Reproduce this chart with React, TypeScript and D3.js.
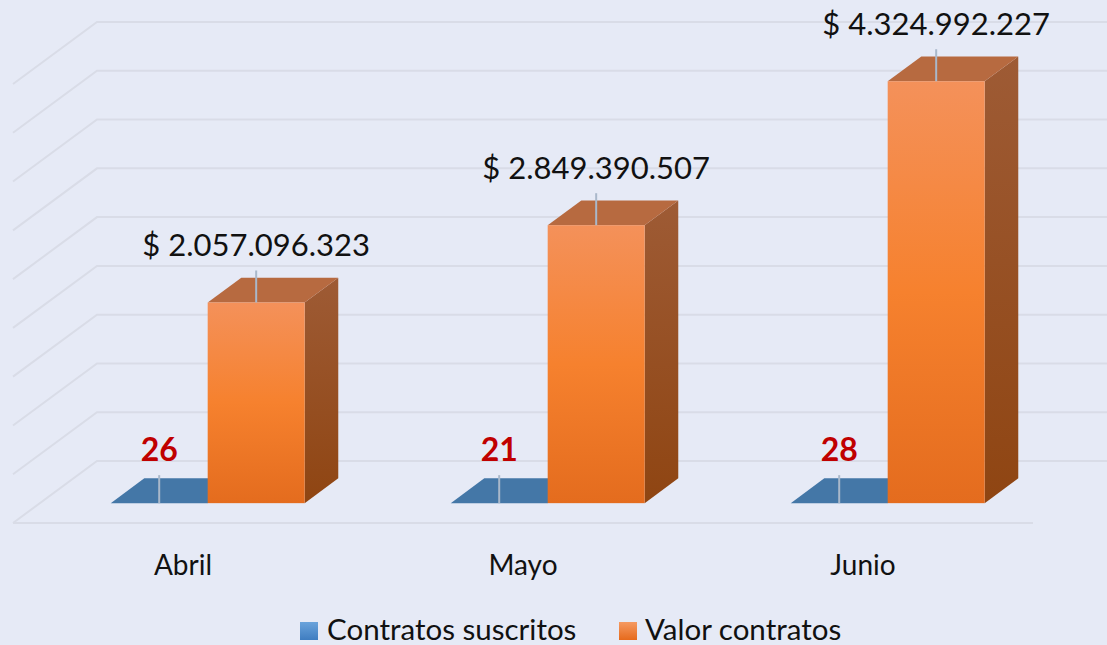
import React from "react";
import * as d3 from "d3";

const categories = ["Abril", "Mayo", "Junio"];
const contratosSuscritos = [26, 21, 28];
const valorContratos = [2057096323, 2849390507, 4324992227];
const yTicks = [0, 5e8, 1e9, 1.5e9, 2e9, 2.5e9, 3e9, 3.5e9, 4e9, 4.5e9];
const seriesNames = ["Contratos suscritos", "Valor contratos"];

const W = 1107;
const H = 645;
const FLOOR_Y = 523;
const FLOOR_L = 13;
const FLOOR_R = 1033;
const DX = 84;
const DY = 62;
const F0 = 0.32;
const F1 = 0.72;
const FONT = "Lato, 'Open Sans', sans-serif";

const locale = d3.formatLocale({
  decimal: ",",
  thousands: ".",
  grouping: [3],
  currency: ["$ ", ""],
});
const fmtMoney = locale.format("$,d");

function proj(x: number, h: number, f: number): [number, number] {
  return [x + DX * f, FLOOR_Y - DY * f - h];
}
function poly(pts: [number, number][]) {
  return pts.map((p) => p.join(",")).join(" ");
}

export default function App() {
  const y = d3.scaleLinear().domain([0, 4.5e9]).range([0, 439]);
  const x0 = d3.scaleBand<string>().domain(categories).range([FLOOR_L, FLOOR_R]);
  const x1 = d3
    .scaleBand<string>()
    .domain(seriesNames)
    .range([0, x0.bandwidth()])
    .paddingInner(0)
    .paddingOuter(0.753)
    .align(0.485);
  const w = x1.bandwidth();

  return (
    <svg
      width={W}
      height={H}
      style={{ position: "absolute", left: 0, top: 0, display: "block" }}
    >
      <defs>
        <linearGradient id="oFront" x1="0" y1="0" x2="0" y2="1">
          <stop offset="0" stopColor="#F4915A" />
          <stop offset="0.5" stopColor="#F6812E" />
          <stop offset="1" stopColor="#E46C1E" />
        </linearGradient>
        <linearGradient id="oSide" x1="0" y1="0" x2="0" y2="1">
          <stop offset="0" stopColor="#9E5B35" />
          <stop offset="1" stopColor="#8F4512" />
        </linearGradient>
        <linearGradient id="legB" x1="0" y1="0" x2="0" y2="1">
          <stop offset="0" stopColor="#6AA3DB" />
          <stop offset="1" stopColor="#3F7DC0" />
        </linearGradient>
        <linearGradient id="legO" x1="0" y1="0" x2="0" y2="1">
          <stop offset="0" stopColor="#F59A62" />
          <stop offset="1" stopColor="#E66A1C" />
        </linearGradient>
      </defs>
      <rect width={W} height={H} fill="#E6EAF6" />

      {yTicks.map((t, i) => {
        const h = y(t);
        return (
          <polyline
            key={i}
            points={poly([
              proj(FLOOR_L, h, 0),
              proj(FLOOR_L, h, 1),
              [W + 20, FLOOR_Y - DY - h],
            ])}
            fill="none"
            stroke="#D9DCE7"
            strokeWidth={2}
          />
        );
      })}
      <line
        x1={FLOOR_L}
        x2={FLOOR_R}
        y1={FLOOR_Y}
        y2={FLOOR_Y}
        stroke="#D9DCE7"
        strokeWidth={2}
      />

      {categories.map((c, i) => {
        const bx = (x0(c) as number) + (x1(seriesNames[0]) as number);
        const ox = (x0(c) as number) + (x1(seriesNames[1]) as number);
        const hb = y(contratosSuscritos[i]);
        const ho = y(valorContratos[i]);
        const [fx0, fyTop] = proj(ox, ho, F0);
        const [, fyBot] = proj(ox, 0, F0);
        const blueFrontCx = proj(bx + w / 2, hb, F0);
        const oCx = fx0 + w / 2;
        return (
          <g key={c}>
            <polygon
              points={poly([
                proj(bx, hb, F0),
                proj(bx + w, hb, F0),
                proj(bx + w, hb, F1),
                proj(bx, hb, F1),
              ])}
              fill="#4477A7"
            />
            <line
              x1={blueFrontCx[0]}
              x2={blueFrontCx[0]}
              y1={blueFrontCx[1]}
              y2={blueFrontCx[1] - 28}
              stroke="#A9B8CA"
              strokeWidth={2}
            />
            <text
              x={blueFrontCx[0]}
              y={blueFrontCx[1] - 42}
              textAnchor="middle"
              fontFamily={FONT}
              fontWeight={700}
              fontSize={32}
              fill="#C00000"
            >
              {contratosSuscritos[i]}
            </text>

            <polygon
              points={poly([
                proj(ox + w, 0, F0),
                proj(ox + w, 0, F1),
                proj(ox + w, ho, F1),
                proj(ox + w, ho, F0),
              ])}
              fill="url(#oSide)"
            />
            <polygon
              points={poly([
                proj(ox, ho, F0),
                proj(ox + w, ho, F0),
                proj(ox + w, ho, F1),
                proj(ox, ho, F1),
              ])}
              fill="#B76A40"
            />
            <rect
              x={fx0}
              y={fyTop}
              width={w}
              height={fyBot - fyTop}
              fill="url(#oFront)"
            />
            <line
              x1={oCx}
              x2={oCx}
              y1={fyTop}
              y2={fyTop - 32}
              stroke="#A9B8CA"
              strokeWidth={2}
            />
            <text
              x={oCx}
              y={fyTop - 46}
              textAnchor="middle"
              fontFamily={FONT}
              fontSize={31}
              fill="#111"
            >
              {fmtMoney(valorContratos[i])}
            </text>

            <text
              x={(x0(c) as number) + x0.bandwidth() / 2}
              y={575}
              textAnchor="middle"
              fontFamily={FONT}
              fontSize={28}
              fill="#111"
            >
              {c}
            </text>
          </g>
        );
      })}

      <g>
        <rect x={300} y={622} width={18} height={18} fill="url(#legB)" />
        <text x={327} y={640} fontFamily={FONT} fontSize={29.5} fill="#111">
          {seriesNames[0]}
        </text>
        <rect x={619} y={622} width={18} height={18} fill="url(#legO)" />
        <text x={645} y={640} fontFamily={FONT} fontSize={29.5} fill="#111">
          {seriesNames[1]}
        </text>
      </g>
    </svg>
  );
}
